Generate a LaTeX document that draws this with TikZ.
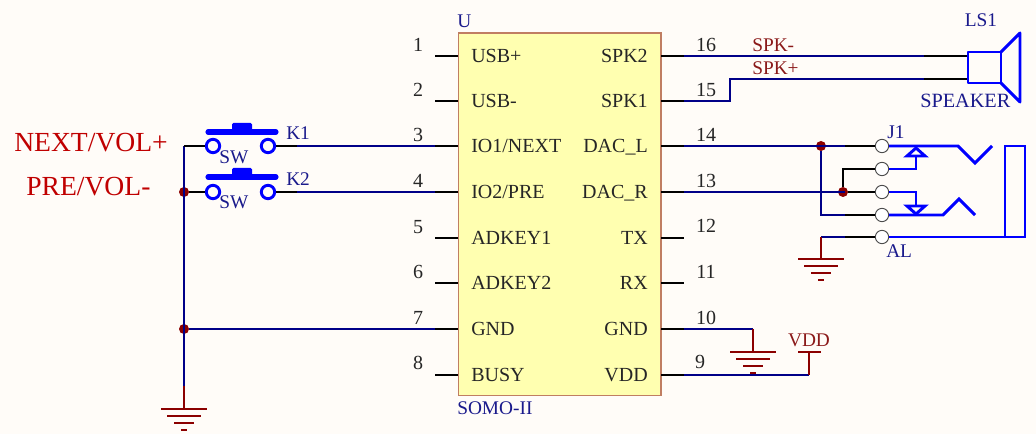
\documentclass[tikz,border=0pt]{standalone}
\usepackage{fontspec}
\setmainfont{Liberation Serif}
\definecolor{paper}{HTML}{FFFCF8}
\definecolor{chipfill}{HTML}{FFFFB0}
\definecolor{chipline}{HTML}{C07E62}
\definecolor{wirecol}{HTML}{000088}
\definecolor{partcol}{HTML}{0000FF}
\definecolor{powercol}{HTML}{8B0000}
\definecolor{labelcol}{HTML}{1A1A8C}
\definecolor{netcol}{HTML}{8B1A1A}
\definecolor{bigcol}{HTML}{C00000}
\tikzset{
  wire/.style={wirecol, line width=2.2pt},
  stub/.style={black, line width=2.2pt},
  part/.style={partcol, line width=2.2pt},
  power/.style={powercol, line width=2.2pt},
  junction/.style={circle, fill=powercol, inner sep=0pt, minimum size=7.5pt},
  swpad/.style={circle, draw=partcol, line width=2.2pt, fill=paper, inner sep=0pt, minimum size=10pt},
  jackpad/.style={circle, draw=black!70, line width=0.7pt, fill=white, inner sep=0pt, minimum size=10pt},
  pinnum/.style={text=black!85, font=\fontsize{15}{17}\selectfont, inner sep=0pt},
  pinname/.style={text=black!85, font=\fontsize{15}{17}\selectfont, inner sep=0pt},
  refname/.style={text=labelcol, font=\fontsize{14.5}{17}\selectfont, inner sep=0pt},
  netname/.style={text=netcol, font=\fontsize{14.5}{17}\selectfont, inner sep=0pt},
  bigname/.style={text=bigcol, font=\fontsize{20.7}{24}\selectfont, inner sep=0pt},
  earth/.pic={
    \draw[power] (-23,0) -- (23,0);
    \draw[power] (-17,7) -- (17,7);
    \draw[power] (-10,14) -- (10,14);
    \draw[power] (-3,21) -- (3,21);
  }
}
\begin{document}
\begin{tikzpicture}[x=0.75pt,y=-0.75pt]
  \useasboundingbox[fill=paper] (0,0) rectangle (1036,434);

  % Module
  \node[draw=chipline, fill=chipfill, line width=1pt, minimum width=152pt, minimum height=272pt, inner sep=0pt] (chip) at (559.5,214.5) {};
  \node[refname, anchor=base west] (uname) at (457,28) {U};
  \node[refname, anchor=base west] (uvalue) at (457,415) {SOMO-II};

  % Pin ends on the module and outer ends
  \coordinate (a1) at (458,56);  \coordinate (b1) at (435,56);
  \coordinate (a2) at (458,101); \coordinate (b2) at (435,101);
  \coordinate (a3) at (458,146); \coordinate (b3) at (435,146);
  \coordinate (a4) at (458,192); \coordinate (b4) at (435,192);
  \coordinate (a5) at (458,238); \coordinate (b5) at (435,238);
  \coordinate (a6) at (458,283); \coordinate (b6) at (435,283);
  \coordinate (a7) at (458,329); \coordinate (b7) at (435,329);
  \coordinate (a8) at (458,375); \coordinate (b8) at (435,375);
  \coordinate (a16) at (661,56);  \coordinate (b16) at (684,56);
  \coordinate (a15) at (661,101); \coordinate (b15) at (684,101);
  \coordinate (a14) at (661,146); \coordinate (b14) at (684,146);
  \coordinate (a13) at (661,192); \coordinate (b13) at (684,192);
  \coordinate (a12) at (661,238); \coordinate (b12) at (684,238);
  \coordinate (a11) at (661,283); \coordinate (b11) at (684,283);
  \coordinate (a10) at (661,329); \coordinate (b10) at (684,329);
  \coordinate (a9) at (661,375);  \coordinate (b9) at (684,375);

  % Left pin names and numbers
  \node[pinname, anchor=base west] (name1) at (471,63) {USB+};
  \node[pinname, anchor=base west] (name2) at (471,108) {USB-};
  \node[pinname, anchor=base west] (name3) at (471,153) {IO1/NEXT};
  \node[pinname, anchor=base west] (name4) at (471,199) {IO2/PRE};
  \node[pinname, anchor=base west] (name5) at (471,245) {ADKEY1};
  \node[pinname, anchor=base west] (name6) at (471,290) {ADKEY2};
  \node[pinname, anchor=base west] (name7) at (471,336) {GND};
  \node[pinname, anchor=base west] (name8) at (471,382) {BUSY};
  \node[pinnum] (num1) at (418,45) {1};
  \node[pinnum] (num2) at (418,90) {2};
  \node[pinnum] (num3) at (418,135) {3};
  \node[pinnum] (num4) at (418,181) {4};
  \node[pinnum] (num5) at (418,227) {5};
  \node[pinnum] (num6) at (418,272) {6};
  \node[pinnum] (num7) at (418,318) {7};
  \node[pinnum] (num8) at (418,363) {8};

  % Right pin names and numbers
  \node[pinname, anchor=base east] (name16) at (648,63) {SPK2};
  \node[pinname, anchor=base east] (name15) at (648,108) {SPK1};
  \node[pinname, anchor=base east] (name14) at (648,153) {DAC\_L};
  \node[pinname, anchor=base east] (name13) at (648,199) {DAC\_R};
  \node[pinname, anchor=base east] (name12) at (648,245) {TX};
  \node[pinname, anchor=base east] (name11) at (648,290) {RX};
  \node[pinname, anchor=base east] (name10) at (648,336) {GND};
  \node[pinname, anchor=base east] (name9) at (648,382) {VDD};
  \node[pinnum] (num16) at (706,45) {16};
  \node[pinnum] (num15) at (706,90) {15};
  \node[pinnum] (num14) at (706,135) {14};
  \node[pinnum] (num13) at (706,181) {13};
  \node[pinnum] (num12) at (706,226) {12};
  \node[pinnum] (num11) at (706,272) {11};
  \node[pinnum] (num10) at (706,318) {10};
  \node[pinnum] (num9) at (700,362) {9};

  % Unconnected stubs
  \foreach \p in {1,2,3,4,5,6,7,8,9,10,11,12,13,14,15,16}
    \draw[stub] (a\p) -- (b\p);

  % Push buttons
  \node[swpad] (k1a) at (213,146) {};
  \node[swpad] (k1b) at (268,146) {};
  \node[swpad] (k2a) at (213,192) {};
  \node[swpad] (k2b) at (268,192) {};
  \draw[partcol, line width=3.8pt, line cap=round] (208,132) -- (276,132);
  \fill[partcol, rounded corners=1pt] (232,123) rectangle (252,132);
  \draw[partcol, line width=3.8pt, line cap=round] (208,177) -- (276,177);
  \fill[partcol, rounded corners=1pt] (232,168) rectangle (252,177);
  \node[refname, anchor=base west] (k1name) at (286,140) {K1};
  \node[refname, anchor=base west] (k2name) at (286,186) {K2};
  \node[refname, anchor=base west] (k1value) at (219,164) {SW};
  \node[refname, anchor=base west] (k2value) at (219,209) {SW};
  \node[bigname, anchor=base west] (nextlabel) at (14,152) {NEXT/VOL+};
  \node[bigname, anchor=base west] (prelabel) at (26,196) {PRE/VOL-};

  % Button and ground wiring
  \coordinate (railtop) at (184,146);
  \node[junction] (railk2) at (184,192) {};
  \node[junction] (railgnd) at (184,329) {};
  \coordinate (railend) at (184,386);
  \coordinate (earthl) at (184,409);
  \draw[wire] (railtop) -- (railend);
  \draw[power] (railend) -- (earthl);
  \pic at (earthl) {earth};
  \draw[stub] (railtop) -- (k1a);
  \draw[stub] (railk2) -- (k2a);
  \draw[wire] (railgnd) -- (b7);
  \coordinate (k1m) at (297,146);
  \coordinate (k2m) at (297,192);
  \draw[stub] (k1b) -- (k1m);
  \draw[stub] (k2b) -- (k2m);
  \draw[wire] (k1m) -- (b3);
  \draw[wire] (k2m) -- (b4);

  % Supply side
  \coordinate (earthc) at (753,329);
  \coordinate (earthr) at (753,352);
  \coordinate (vddc) at (809,375);
  \coordinate (vddt) at (809,352);
  \draw[wire] (b10) -- (earthc);
  \draw[power] (earthc) -- (earthr);
  \pic at (earthr) {earth};
  \draw[wire] (b9) -- (vddc);
  \draw[power] (vddc) -- (vddt);
  \draw[power] (798,352) -- (821,352);
  \node[netname, anchor=base] (vddname) at (809,347) {VDD};

  % Speaker
  \coordinate (sp2) at (968,56);
  \coordinate (sp1) at (968,79);
  \coordinate (sp2m) at (924,56);
  \coordinate (sp1m) at (924,79);
  \coordinate (bend1) at (730,101);
  \coordinate (bend2) at (730,79);
  \draw[wire] (b16) -- (sp2m);
  \draw[wire] (b15) -- (bend1) -- (bend2) -- (sp1m);
  \draw[stub] (sp2m) -- (sp2);
  \draw[stub] (sp1m) -- (sp1);
  \draw[part, line join=round] (968,52) rectangle (1001,83);
  \draw[part, line join=round] (1001,52) -- (1020,33) -- (1020,102) -- (1001,83);
  \node[netname, anchor=base west] (spkm) at (752,52) {SPK-};
  \node[netname, anchor=base west] (spkp) at (752,75) {SPK+};
  \node[refname, anchor=base] (lsname) at (981,27) {LS1};
  \node[refname, font=\fontsize{15.2}{17}\selectfont, anchor=base west] (lsvalue) at (920,108) {SPEAKER};

  % Jack pads
  \node[jackpad] (j1) at (882,146) {};
  \node[jackpad] (j2) at (882,169) {};
  \node[jackpad] (j3) at (882,192) {};
  \node[jackpad] (j4) at (882,215) {};
  \node[jackpad] (j5) at (882,237) {};
  \node[refname, anchor=base west] (jname) at (887,139) {J1};
  \node[refname, anchor=base west] (jvalue) at (886,258) {AL};

  % Jack wiring
  \node[junction] (dotl) at (821,146) {};
  \node[junction] (dotr) at (843,192) {};
  \coordinate (m1) at (845,146);
  \coordinate (m3) at (845,192);
  \coordinate (m4) at (845,215);
  \coordinate (m5) at (845,237);
  \coordinate (t4) at (821,215);
  \coordinate (t5) at (821,237);
  \coordinate (t2) at (843,169);
  \coordinate (earthj) at (821,259);
  \draw[wire] (b14) -- (m1);
  \draw[wire] (b13) -- (m3);
  \draw[wire] (dotl) -- (t4) -- (m4);
  \draw[wire] (t5) -- (m5);
  \draw[stub] (m1) -- (j1);
  \draw[stub] (dotr) -- (j3);
  \draw[stub] (m4) -- (j4);
  \draw[stub] (m5) -- (j5);
  \draw[stub] (dotr) -- (t2) -- (j2);
  \draw[power] (t5) -- (earthj);
  \pic at (earthj) {earth};

  % Jack contacts
  \draw[part] (j1) -- (958,146) -- (975,163) -- (992,146);
  \draw[part] (j2) -- (916,169) -- (916,156);
  \draw[part] (907,156) -- (925,156) -- (916,148) -- cycle;
  \draw[part] (j3) -- (916,192) -- (916,206);
  \draw[part] (907,206) -- (925,206) -- (916,214) -- cycle;
  \draw[part] (j4) -- (943,215) -- (959,199) -- (975,215);
  \draw[part] (j5) -- (1025,237) -- (1025,146) -- (1005,146) -- (1005,237);
\end{tikzpicture}
\end{document}
